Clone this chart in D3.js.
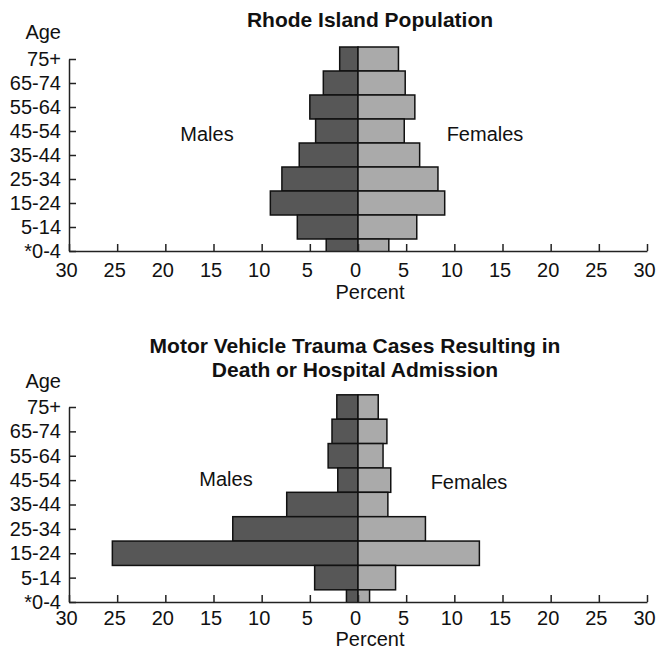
<!DOCTYPE html>
<html>
<head>
<meta charset="utf-8">
<script src="https://cdn.jsdelivr.net/npm/d3@7"></script>
<style>
  body { margin: 0; background: #fff; }
  text { font-family: "Liberation Sans", Arial, sans-serif; fill: #111; }
  .axis path, .axis line { stroke: #222; stroke-width: 1.5px; }
  .axis text { font-size: 20px; }
</style>
</head>
<body>
<div id="chart-area"></div>
<script>
// age groups, top to bottom
var ageGroups = ["75+", "65-74", "55-64", "45-54", "35-44", "25-34", "15-24", "5-14", "*0-4"];

// Rhode Island population (percent)
var popMales   = [1.9, 3.6, 5.0, 4.4, 6.1, 7.9, 9.1, 6.3, 3.3];
var popFemales = [4.2, 4.9, 5.9, 4.8, 6.4, 8.3, 9.0, 6.1, 3.2];

// Motor vehicle trauma cases (percent)
var mvMales   = [2.2, 2.7, 3.1, 2.1, 7.4, 13.0, 25.5, 4.5, 1.2];
var mvFemales = [2.1, 3.0, 2.6, 3.4, 3.1, 7.0, 12.6, 3.9, 1.2];

var percentTicks = [-30, -25, -20, -15, -10, -5, 0, 5, 10, 15, 20, 25, 30];

var width = 656, height = 649;

var svg = d3.select("#chart-area").append("svg")
    .attr("width", width)
    .attr("height", height);

var x = d3.scaleLinear().domain([-30, 30]).range([69, 647]);

function pyramid(id, males, females, o) {
    var y = d3.scalePoint().domain(ageGroups).range([o.top, o.bottom]);
    var bh = y.step();
    var g = svg.append("g");

    // bars get cut at the x axis (the *0-4 bar shows only its upper half)
    g.append("clipPath").attr("id", id)
      .append("rect")
        .attr("x", 0).attr("y", o.top - bh)
        .attr("width", width).attr("height", o.bottom - o.top + bh);

    var bars = g.append("g").attr("clip-path", "url(#" + id + ")");

    bars.selectAll(".male").data(males).enter().append("rect")
        .attr("class", "male")
        .attr("x", function(d){ return x(-d); })
        .attr("y", function(d, i){ return y(ageGroups[i]) - bh / 2; })
        .attr("width", function(d){ return x(0) - x(-d); })
        .attr("height", bh)
        .attr("fill", "#575757")
        .attr("stroke", "#111")
        .attr("stroke-width", 1.5);

    bars.selectAll(".female").data(females).enter().append("rect")
        .attr("class", "female")
        .attr("x", x(0))
        .attr("y", function(d, i){ return y(ageGroups[i]) - bh / 2; })
        .attr("width", function(d){ return x(d) - x(0); })
        .attr("height", bh)
        .attr("fill", "#aaaaaa")
        .attr("stroke", "#111")
        .attr("stroke-width", 1.5);

    // axes, ticks pointing inward
    var xa = g.append("g")
        .attr("class", "axis")
        .attr("transform", "translate(0," + o.bottom + ")")
        .call(d3.axisBottom(x).tickValues(percentTicks)
            .tickSize(-7).tickSizeOuter(0).tickPadding(o.xPad)
            .tickFormat(function(d){ return Math.abs(d); }));
    // labels sit a little left of their ticks in the original
    xa.selectAll("text").attr("dx", -3);

    g.append("g")
        .attr("class", "axis")
        .attr("transform", "translate(" + x(-30) + ",0)")
        .call(d3.axisLeft(y).tickSize(-7).tickSizeOuter(0).tickPadding(8));

    g.selectAll(".axis text").attr("fill", "#111");

    // labels
    g.append("text")
        .attr("x", 61).attr("y", o.ageY)
        .attr("text-anchor", "end")
        .attr("font-size", "20px")
        .text("Age");

    g.append("text")
        .attr("x", o.malesX).attr("y", o.sexY)
        .attr("text-anchor", "middle")
        .attr("font-size", "20px")
        .text("Males");

    g.append("text")
        .attr("x", o.femalesX).attr("y", o.sexY + o.femDy)
        .attr("text-anchor", "middle")
        .attr("font-size", "20px")
        .text("Females");

    g.append("text")
        .attr("x", 370).attr("y", o.percentY)
        .attr("text-anchor", "middle")
        .attr("font-size", "20px")
        .text("Percent");

    o.title.forEach(function(t, i){
        g.append("text")
            .attr("x", o.titleX).attr("y", o.titleY + i * 23.5)
            .attr("text-anchor", "middle")
            .attr("font-size", "21px")
            .attr("font-weight", "bold")
            .text(t);
    });
}

pyramid("clip-pop", popMales, popFemales, {
    top: 59, bottom: 251, xPad: 12,
    ageY: 39, sexY: 141, femDy: 0, malesX: 207, femalesX: 485,
    percentY: 299, titleX: 370, titleY: 27,
    title: ["Rhode Island Population"]
});

pyramid("clip-mv", mvMales, mvFemales, {
    top: 407, bottom: 602, xPad: 9,
    ageY: 388, sexY: 486, femDy: 3, malesX: 226, femalesX: 469,
    percentY: 646, titleX: 355, titleY: 353,
    title: ["Motor Vehicle Trauma Cases Resulting in", "Death or Hospital Admission"]
});
</script>
</body>
</html>
